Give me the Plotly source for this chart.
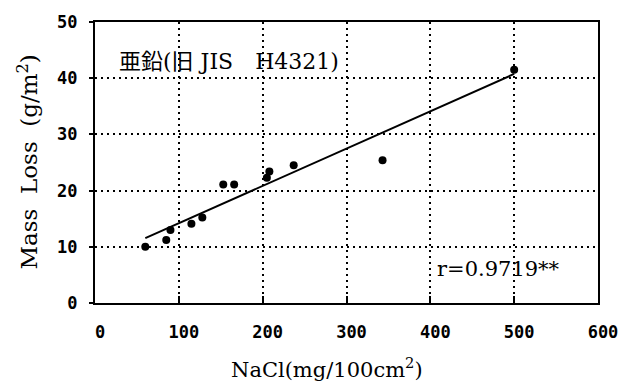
import numpy as np
import plotly.graph_objects as go

# NaCl deposition (mg/100cm2) vs. zinc mass loss (g/m2)
nacl = [60, 85, 90, 115, 128, 153, 166, 205, 208, 237, 343, 500]
mass_loss = [10.0, 11.2, 13.0, 14.1, 15.2, 21.1, 21.1, 22.3, 23.4, 24.5, 25.4, 41.5]

x_ticks = [0, 100, 200, 300, 400, 500, 600]
y_ticks = [0, 10, 20, 30, 40, 50]

# least-squares regression line over the measured range
slope, intercept = np.polyfit(nacl, mass_loss, 1)
fit_x = [min(nacl), max(nacl)]
fit_y = [slope * v + intercept for v in fit_x]

serif = "DejaVu Serif, Noto Sans CJK JP"
tickfont = dict(family="DejaVu Sans Mono", size=17, color="black", weight="bold")

fig = go.Figure()
fig.add_trace(go.Scatter(x=fit_x, y=fit_y, mode="lines",
                         line=dict(color="black", width=2), hoverinfo="skip"))
fig.add_trace(go.Scatter(x=nacl, y=mass_loss, mode="markers",
                         marker=dict(color="black", size=8, symbol="circle")))

fig.add_annotation(x=26, y=43, xref="x", yref="y", text="亜鉛(旧 JIS　H4321)",
                   showarrow=False, xanchor="left", yanchor="middle",
                   font=dict(family=serif, size=22, color="black"))
fig.add_annotation(x=405, y=6.1, xref="x", yref="y", text="r=0.9719**",
                   showarrow=False, xanchor="left", yanchor="middle",
                   font=dict(family=serif, size=21, color="black"))

# axis titles
fig.add_annotation(x=327, y=370, xref="paper", yref="paper", text="NaCl(mg/100cm<sup>2</sup>)",
                   showarrow=False, xanchor="center", yanchor="middle",
                   font=dict(family=serif, size=21, color="black"))
fig.add_annotation(x=27, y=159, xref="paper", yref="paper", text="Mass  Loss  (g/m<sup>2</sup>)",
                   showarrow=False, xanchor="center", yanchor="middle", textangle=-90,
                   font=dict(family=serif, size=23, color="black"))

fig.update_layout(
    width=633, height=386,
    margin=dict(l=95, r=35, t=15, b=83),
    paper_bgcolor="white", plot_bgcolor="white",
    showlegend=False,
    xaxis=dict(range=[0, 600], tickvals=x_ticks, ticktext=[str(v) for v in x_ticks],
               showgrid=True, gridcolor="black", gridwidth=1.5, griddash="2px,4px",
               showline=True, linecolor="black", linewidth=2, mirror=True,
               ticks="inside", ticklen=7, tickcolor="black", tickwidth=1.5,
               tickfont=tickfont, ticklabelstandoff=13, ticklabelshift=5, zeroline=False),
    yaxis=dict(range=[0, 50], tickvals=y_ticks, ticktext=[str(v) for v in y_ticks],
               showgrid=True, gridcolor="black", gridwidth=1.5, griddash="2px,4px",
               showline=True, linecolor="black", linewidth=2, mirror=True,
               ticks="outside", ticklen=4, tickcolor="black", tickwidth=1.5,
               tickfont=tickfont, ticklabelstandoff=8, zeroline=False),
)

# convert pixel positions of the title annotations into paper fractions
plot_l, plot_b = 95, 83
plot_w, plot_h = 633 - 95 - 35, 386 - 15 - 83
for ann in fig.layout.annotations:
    if ann.xref == "paper":
        ann.x = (ann.x - plot_l) / plot_w
        ann.y = (386 - ann.y - plot_b) / plot_h

fig.write_html("out.html")
